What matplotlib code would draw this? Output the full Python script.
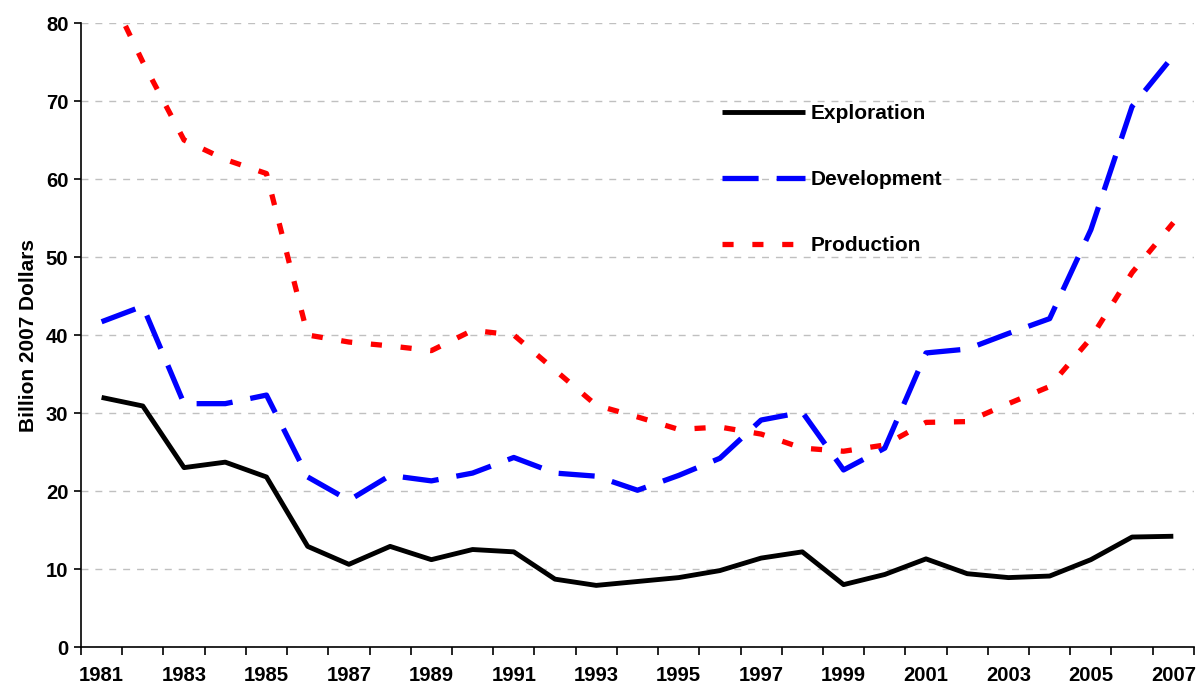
import matplotlib.pyplot as plt
import numpy as np

plt.rcParams["font.family"] = ["Liberation Sans", "DejaVu Sans"]
plt.rcParams["font.weight"] = "bold"
plt.rcParams["lines.scale_dashes"] = False

years = list(range(1981, 2008))
exploration = [32.0, 30.9, 23.0, 23.7, 21.8, 12.9, 10.6, 12.9, 11.2, 12.5, 12.2, 8.7, 7.9, 8.4,
               8.9, 9.8, 11.4, 12.2, 8.0, 9.3, 11.3, 9.4, 8.9, 9.1, 11.2, 14.1, 14.2]
development = [41.7, 43.7, 31.2, 31.2, 32.3, 21.8, 18.8, 22.0, 21.3, 22.3, 24.3, 22.3, 21.9, 20.1,
               22.0, 24.2, 29.1, 30.1, 22.7, 25.5, 37.7, 38.2, 40.2, 42.1, 53.5, 69.3, 75.8]
production = [86.0, 75.0, 65.0, 62.5, 60.7, 40.0, 39.1, 38.6, 38.0, 40.6, 40.0, 35.5, 31.0, 29.5,
              27.9, 28.2, 27.3, 25.5, 25.1, 25.9, 28.8, 28.9, 31.2, 33.4, 39.6, 48.0, 54.4]
y_ticks = [0, 10, 20, 30, 40, 50, 60, 70, 80]

fig = plt.figure(figsize=(11.98, 6.87), dpi=100)
ax = fig.add_axes([0.0676, 0.0582, 0.929, 0.9083])

x = np.arange(len(years))
ax.plot(x, exploration, color="black", linewidth=3.5, label="Exploration", solid_capstyle="butt")
ax.plot(x, development, color="#0000ff", linewidth=3.8, dashes=(26, 13), label="Development")
ax.plot(x, production, color="#ff0000", linewidth=3.8, dashes=(8, 13.5), label="Production")

ax.set_xlim(-0.5, len(years) - 0.5)
ax.set_ylim(0, 80)
ax.set_yticks(y_ticks)
ax.yaxis.grid(True, color="#c0c0c0", linestyle=(0, (5, 5)), linewidth=1.0)
ax.set_axisbelow(True)

# category axis: tick marks between years, labels every other year
ax.set_xticks(np.arange(-0.5, len(years), 1.0))
ax.set_xticklabels([])
ax.set_xticks(x[::2], minor=True)
ax.set_xticklabels([str(y) for y in years[::2]], minor=True)
ax.tick_params(axis="x", which="major", direction="out", length=6, width=1.2)
ax.tick_params(axis="x", which="minor", length=0, pad=14, labelsize=14.6)
ax.tick_params(axis="y", direction="out", length=5, width=1.2, labelsize=14.6, pad=4)
for lab in ax.get_xticklabels(minor=True) + ax.get_yticklabels():
    lab.set_fontweight("bold")

for side in ["top", "right"]:
    ax.spines[side].set_visible(False)
ax.spines["left"].set_linewidth(1.2)
ax.spines["bottom"].set_linewidth(1.2)

ax.set_ylabel("Billion 2007 Dollars", fontsize=15, fontweight="bold", labelpad=6)

ax.legend(loc="upper left", bbox_to_anchor=(0.576, 0.870), frameon=False,
          handlelength=4.0, handletextpad=0.25, labelspacing=2.25,
          borderpad=0, borderaxespad=0, prop={"weight": "bold", "size": 15})

fig.savefig("out.png", dpi=100)
